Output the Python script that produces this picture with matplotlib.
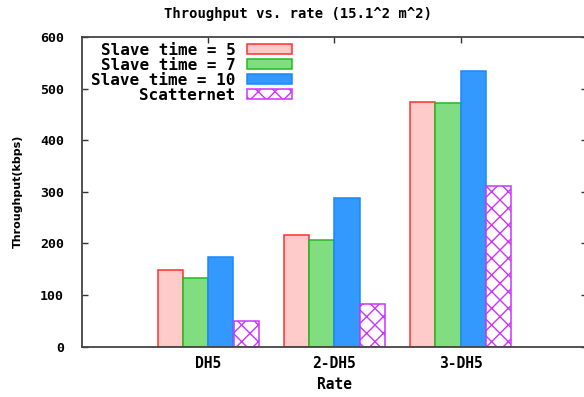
import matplotlib
matplotlib.use("Agg")
import matplotlib.pyplot as plt
import numpy as np

categories = ["DH5", "2-DH5", "3-DH5"]
series_names = ["Slave time = 5", "Slave time = 7", "Slave time = 10", "Scatternet"]
slave5 = [149, 216, 474]
slave7 = [133, 206, 472]
slave10 = [173, 287, 535]
scatternet = [50, 82, 311]
yticks = [0, 100, 200, 300, 400, 500, 600]

W, H = 584, 397
fig = plt.figure(figsize=(W / 100, H / 100), dpi=100)
ax_left, ax_right, ax_top, ax_bottom = 82, 587, 37, 346.5
ax = fig.add_axes([ax_left / W, 1 - ax_bottom / H, (ax_right - ax_left) / W, (ax_bottom - ax_top) / H])

mono = "DejaVu Sans Mono"
x = np.arange(1, len(categories) + 1)
bw = 0.2
styles = [
    dict(facecolor="#ffcaca", edgecolor="#ff3030"),
    dict(facecolor="#80dd80", edgecolor="#22bb22"),
    dict(facecolor="#3399ff", edgecolor="#1a88ff"),
    dict(facecolor="white", edgecolor="#cc33ff", hatch="xx"),
]
data = [slave5, slave7, slave10, scatternet]
for i, (vals, st, name) in enumerate(zip(data, styles, series_names)):
    ax.bar(x + (i - 1.5) * bw, vals, bw, label=name, linewidth=1.1, **st)

ax.set_xlim(0, 4)
ax.set_ylim(0, 600)
ax.set_xticks(x)
ax.set_xticklabels(categories)
ax.set_yticks(yticks)
ax.tick_params(direction="in", length=4, width=1, color="#333333",
               top=True, right=True, bottom=False, pad=7)
ax.tick_params(axis="y", pad=13)
for lbl in ax.get_xticklabels() + ax.get_yticklabels():
    lbl.set_fontfamily(mono)
    lbl.set_fontweight("bold")
for lbl in ax.get_xticklabels():
    lbl.set_fontsize(10.5)
for lbl in ax.get_yticklabels():
    lbl.set_fontsize(9.5)
ax.set_axisbelow(True)
for s in ax.spines.values():
    s.set_color("#444444")
    s.set_linewidth(1.3)

ax.set_xlabel("Rate", fontfamily=mono, fontweight="bold", fontsize=10.5, labelpad=4)
ax.set_ylabel("Throughput(kbps)", fontfamily="DejaVu Sans", fontweight="bold", fontsize=8, labelpad=12)
fig.text(298 / W, 1 - 14 / H, "Throughput vs. rate (15.1^2 m^2)", ha="center", va="center",
         fontfamily=mono, fontweight="bold", fontsize=10)

leg = ax.legend(loc="upper left", bbox_to_anchor=(0.002, 1.008), frameon=False, markerfirst=False,
                prop=dict(family=mono, weight="bold", size=11.5), borderpad=0,
                handlelength=2.85, handleheight=0.55, handletextpad=0.7, labelspacing=0.0)

fig.savefig("out.png", dpi=100)
